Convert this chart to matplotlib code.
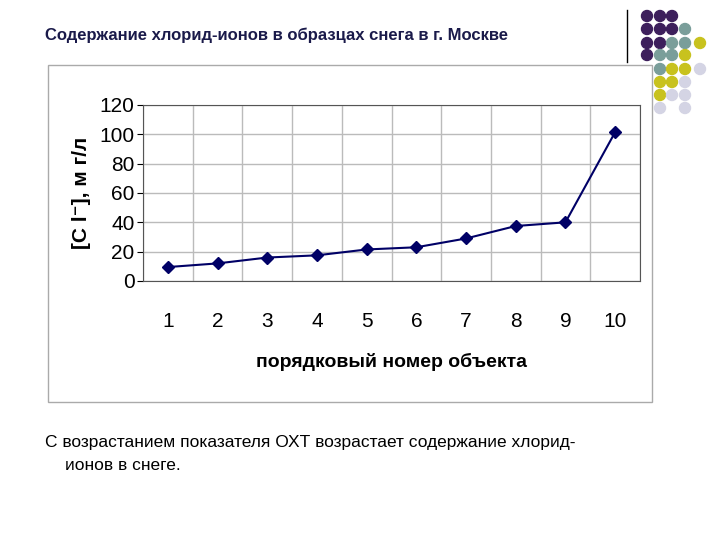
import matplotlib
matplotlib.use('Agg')
from matplotlib import pyplot as plt
from matplotlib.patches import Rectangle, Ellipse
from matplotlib.lines import Line2D

plt.rcParams['font.family'] = ['Liberation Sans', 'DejaVu Sans']

objects = [1, 2, 3, 4, 5, 6, 7, 8, 9, 10]
chloride = [9.5, 12, 16, 17.5, 21.5, 23, 29, 37.5, 40, 101.5]
y_ticks = [0, 20, 40, 60, 80, 100, 120]

fig = plt.figure(figsize=(7.2, 5.4), dpi=100)

# slide decoration: dot grid top right
purple, teal, yellow, lav = '#3d1f5c', '#7a9e9a', '#c8c21e', '#d4d4e4'
dot_cols = [647, 660, 672, 685, 700]
dot_rows = [16, 29, 43, 55, 69, 82, 95, 108]
pattern = [
    'PPP..', 'PPPT.', 'PPTTY', 'PTTY.', '.TYYL', '.YYL.', '.YLL.', '.L.L.',
]
cmap = {'P': purple, 'T': teal, 'Y': yellow, 'L': lav}
for r, row in enumerate(pattern):
    for c, ch in enumerate(row):
        if ch in cmap:
            fig.patches.append(Ellipse(
                (dot_cols[c] / 720, 1 - dot_rows[r] / 540), 11 / 720, 11 / 540,
                transform=fig.transFigure, color=cmap[ch], zorder=-2))
fig.add_artist(Line2D([627 / 720, 627 / 720], [1 - 10 / 540, 1 - 62 / 540], color='black', lw=1))

fig.text(45 / 720, 1 - 35 / 540, 'Содержание хлорид-ионов в образцах снега в г. Москве',
         fontsize=12, fontweight='bold', color='#1a1a4a', va='center')

# chart frame
fig.patches.append(Rectangle((48 / 720, 1 - 402 / 540), 604 / 720, 337 / 540,
                             transform=fig.transFigure, fill=True, facecolor='white',
                             edgecolor='#aaaaaa', lw=1, zorder=-1))

ax = fig.add_axes([143 / 720, 1 - 281 / 540, 497 / 720, 176 / 540])
ax.plot(objects, chloride, color='#000066', lw=1.5, marker='D', markersize=6,
        markerfacecolor='#000066', clip_on=False)
ax.set_xlim(0.5, 10.5)
ax.set_ylim(0, 120)
ax.set_yticks(y_ticks)
ax.set_xticks(objects)
ax.set_xticks([i + 0.5 for i in range(0, 11)], minor=True)
ax.grid(True, which='minor', axis='x', color='#bbbbbb', lw=1)
ax.grid(True, which='major', axis='y', color='#bbbbbb', lw=1)
ax.tick_params(axis='x', which='both', length=0, pad=22, labelsize=15)
ax.tick_params(axis='y', length=4, labelsize=15, pad=2)
for s in ax.spines.values():
    s.set_color('#555555')
ax.set_ylabel('[C l⁻], м г/л', fontsize=15, fontweight='bold', labelpad=6)
ax.set_xlabel('порядковый номер объекта', fontsize=14, fontweight='bold', labelpad=16)

fig.text(45 / 720, 1 - 443 / 540, 'С возрастанием показателя ОХТ возрастает содержание хлорид-',
         fontsize=12.5, va='center')
fig.text(65 / 720, 1 - 466 / 540, 'ионов в снеге.', fontsize=12.5, va='center')

fig.savefig('out.png', dpi=100)
